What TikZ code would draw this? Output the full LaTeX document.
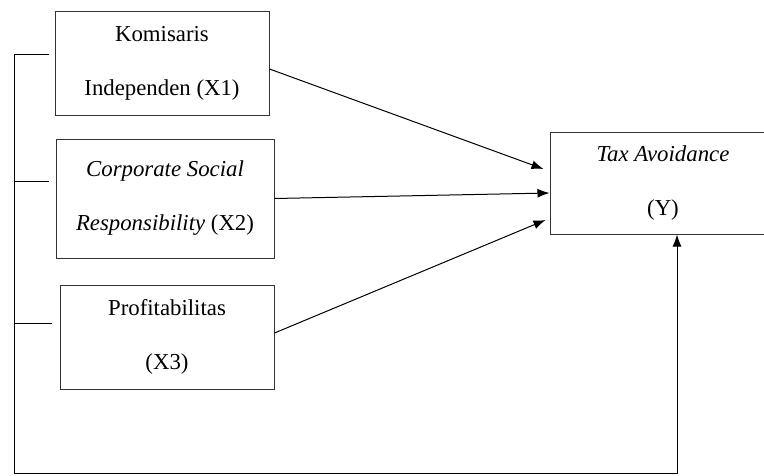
\documentclass[tikz,border=0pt]{standalone}
\usepackage{fontspec}
\setmainfont{Liberation Serif}
\usepackage{tikz}
\usetikzlibrary{arrows.meta,calc}

\begin{document}
\begin{tikzpicture}[x=1pt,y=-1pt,>={Latex[length=12pt,width=9pt]},line width=1pt,
  varbox/.style={draw=black!80,rectangle,align=center,inner sep=0pt,
    font=\fontsize{22.8}{54}\selectfont}]
  \useasboundingbox (0,0) rectangle (764,475);

  % Variables
  \node[varbox,minimum width=214pt,minimum height=104pt] (kom) at (162,63) {Komisaris\\Independen (X1)};
  \node[varbox,minimum width=218pt,minimum height=119pt] (csr) at (165,198.5) {\textit{Corporate Social}\\\textit{Responsibility} (X2)};
  \node[varbox,minimum width=214pt,minimum height=104pt] (prof) at (167,337) {Profitabilitas\\(X3)};
  \node[varbox,minimum width=226pt,minimum height=102pt] (tax) at (663,183) {\textit{Tax Avoidance}\\(Y)};

  % Partial effects
  \draw[->] ($(kom.east)+(0,6)$) -- ($(tax.west)+(-6,-14)$);
  \draw[->] (csr.east) -- ($(tax.west)+(0,10)$);
  \draw[->] ($(prof.east)+(0,-4)$) -- ($(tax.west)+(-4,37)$);

  % Simultaneous effect
  \coordinate (top) at (14,54);
  \coordinate (corner) at (14,473);
  \coordinate (turn) at (677,473);
  \draw (top) -- ++(35,0);
  \draw (14,181) coordinate (mid) -- ++(35,0);
  \draw (14,323) coordinate (low) -- ++(38,0);
  \draw[->] (top) -- (corner) -- (turn) -- (turn |- tax.south);
\end{tikzpicture}
\end{document}
